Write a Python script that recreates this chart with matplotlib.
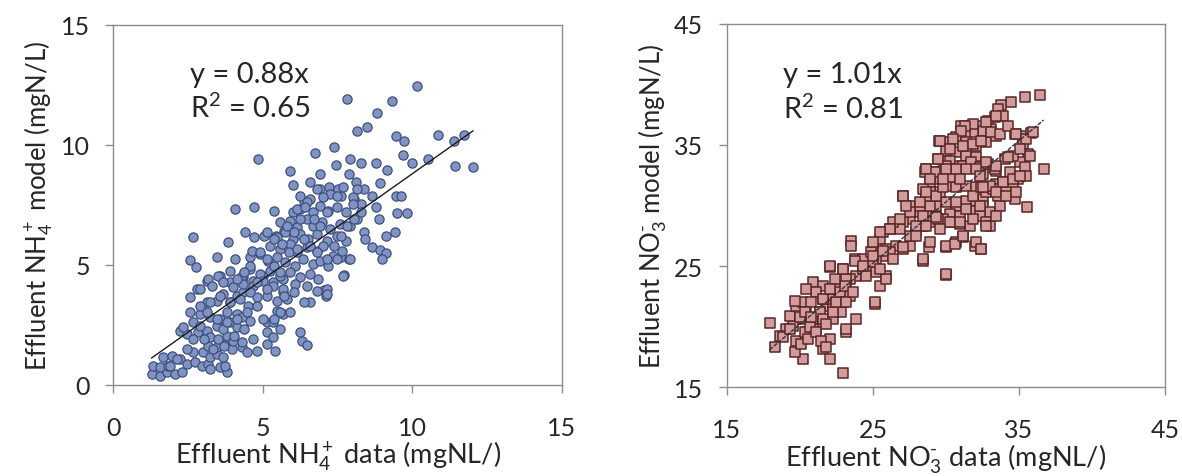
import matplotlib
matplotlib.use("Agg")
import matplotlib.pyplot as plt
import numpy as np

# ---------------- data ----------------
nh4_points = [
    (10.15, 12.47), (7.82, 11.92), (9.33, 11.85), (8.83, 11.32), (8.16, 10.6), (8.49, 10.76),
    (9.44, 10.36), (9.72, 10.18), (10.87, 10.43), (11.4, 10.18), (11.73, 10.43), (7.37, 9.93),
    (6.74, 9.67), (9.7, 9.58), (10.0, 9.25), (10.54, 9.42), (11.42, 9.11), (12.03, 9.1),
    (4.83, 9.42), (7.93, 9.42), (8.27, 9.25), (7.45, 9.18), (8.8, 9.25), (9.14, 8.97),
    (5.9, 8.93), (6.9, 8.78), (7.88, 8.78), (8.13, 8.44), (6.01, 8.35), (6.57, 8.44),
    (8.92, 8.4), (6.93, 8.17), (7.23, 8.24), (7.52, 8.17), (8.39, 8.17), (9.44, 7.86),
    (9.61, 7.86), (6.37, 7.68), (6.59, 7.75), (7.26, 7.96), (7.6, 7.89), (8.04, 7.75),
    (8.27, 7.54), (8.66, 7.89), (8.8, 7.4), (4.08, 7.33), (4.72, 7.4), (5.39, 7.24),
    (6.01, 7.19), (6.26, 7.33), (9.5, 7.17), (9.83, 7.17), (8.88, 6.92), (2.68, 6.15),
    (4.41, 6.36), (4.72, 6.15), (5.03, 6.22), (3.85, 5.94), (5.45, 6.22), (5.7, 6.43),
    (8.39, 6.36), (8.42, 6.08), (9.11, 6.22), (9.42, 6.36), (8.66, 5.74), (8.92, 5.63),
    (9.11, 5.49), (8.99, 5.25), (2.57, 5.22), (2.77, 4.9), (3.46, 5.35), (4.08, 5.25),
    (4.56, 5.32), (7.6, 5.32), (7.88, 5.25), (7.71, 4.58), (6.57, 3.47), (7.04, 3.97),
    (7.13, 3.72), (6.23, 2.19), (6.31, 1.85), (6.48, 1.67),
    (1.28, 0.46), (1.56, 0.39), (1.79, 0.53), (2.06, 0.46), (2.29, 0.53), (1.34, 0.81),
    (1.56, 0.74), (1.84, 0.81), (1.67, 1.16), (1.95, 1.22), (2.23, 1.08), (2.45, 0.88),
    (2.73, 0.94), (2.95, 0.81), (3.18, 0.88), (3.23, 0.67), (3.57, 0.74), (3.79, 0.53),
    (3.74, 0.81), (2.68, 1.36), (3.01, 1.36), (3.23, 1.15), (3.46, 1.29), (3.68, 1.15),
    (3.18, 1.64), (3.46, 1.57), (3.74, 1.71), (3.96, 1.5), (4.29, 1.57), (4.46, 1.36),
    (4.68, 1.92), (4.79, 1.43), (5.13, 1.71), (5.41, 1.43), (2.23, 2.26), (2.45, 2.12),
    (2.84, 2.19), (3.12, 2.26), (3.23, 1.99), (3.51, 1.92), (3.79, 2.06), (4.01, 1.85),
    (4.29, 1.78), (2.34, 2.4), (2.68, 2.61), (2.9, 2.47), (3.46, 2.47), (3.68, 2.33),
    (3.9, 2.61), (4.13, 2.4), (5.13, 2.19), (5.35, 1.99), (5.13, 2.61), (5.57, 2.33),
    (2.56, 3.03), (2.9, 2.96), (3.23, 2.82), (3.57, 2.75), (3.79, 3.03), (4.13, 2.96),
    (4.29, 2.82), (4.57, 2.68), (5.02, 2.75), (5.35, 2.61), (5.46, 3.1), (5.69, 2.96),
    (2.56, 3.65), (2.79, 4.0), (3.12, 3.44), (3.46, 3.51), (3.68, 3.79), (3.9, 3.44),
    (4.13, 3.72), (4.35, 3.86), (4.52, 3.3), (4.79, 3.65), (5.13, 3.72), (5.46, 3.51),
    (5.69, 3.86), (3.12, 4.35), (3.57, 4.56), (3.9, 4.28), (4.35, 4.49), (4.68, 4.35),
    (5.02, 4.56), (5.35, 4.28), (5.69, 4.42),
    (6.24, 7.89), (6.47, 7.61), (6.8, 8.17), (7.03, 7.82), (7.47, 7.89), (7.69, 8.24),
    (8.03, 7.82), (8.14, 8.17), (6.13, 7.33), (6.41, 7.4), (6.69, 7.19), (6.91, 7.47),
    (7.19, 7.26), (7.47, 7.4), (7.8, 7.19), (8.03, 7.54), (5.58, 6.78), (5.91, 6.85),
    (6.13, 6.57), (6.47, 6.92), (6.69, 6.64), (6.97, 6.78), (7.25, 6.5), (7.58, 6.71),
    (7.92, 6.64), (8.14, 6.92), (5.46, 6.15), (5.74, 6.36), (6.02, 6.08), (6.24, 6.29),
    (6.52, 6.08), (6.8, 6.29), (7.14, 6.01), (7.47, 6.22), (7.8, 6.01), (5.24, 5.81),
    (5.58, 5.67), (5.91, 5.88), (6.13, 5.53), (6.47, 5.74), (6.8, 5.6), (7.03, 5.81),
    (7.36, 5.39), (7.64, 5.6), (7.92, 5.25), (4.63, 5.6), (4.91, 5.46), (5.18, 5.18),
    (5.46, 5.32), (5.74, 5.11), (6.08, 4.97), (6.36, 5.25), (6.69, 5.04), (6.91, 5.18),
    (7.19, 4.97), (7.47, 5.25), (3.18, 4.42), (3.51, 4.56), (3.9, 4.76), (4.29, 4.56),
    (4.57, 4.83), (4.91, 4.63), (5.24, 4.76), (5.58, 4.56), (5.91, 4.69), (6.24, 4.49),
    (6.58, 4.63), (6.86, 4.42), (7.14, 4.0), (7.69, 4.56), (2.9, 4.0), (3.29, 4.14),
    (3.68, 4.28), (4.01, 4.07), (4.35, 4.21), (4.68, 4.14), (5.02, 4.35), (5.35, 4.14),
    (5.69, 4.0), (6.08, 4.21), (6.47, 4.14), (6.8, 3.93), (7.14, 3.79),
    (5.81, 3.58), (6.03, 3.86), (6.37, 3.44), (5.92, 3.03), (5.59, 3.03), (5.36, 2.75),
    (5.7, 3.72),
    (5.14, 6.36), (5.36, 6.08), (5.64, 5.88), (5.87, 5.53), (6.15, 5.67), (6.37, 6.08),
    (6.59, 5.81), (6.82, 5.53), (4.92, 5.53), (5.14, 5.25), (5.36, 4.97), (5.59, 4.69),
    (4.58, 4.97), (4.36, 4.69), (4.13, 4.42), (4.8, 4.28), (5.14, 4.0), (4.58, 3.86),
    (4.25, 3.58), (3.91, 3.44), (3.58, 3.72), (3.24, 3.44), (4.8, 3.31), (4.47, 3.03),
    (4.13, 2.75), (3.8, 2.61), (3.46, 2.75), (3.13, 3.03), (2.91, 3.31), (4.36, 2.33),
    (4.02, 2.06), (3.69, 1.64), (3.35, 1.5), (3.02, 1.92), (2.68, 1.92), (2.46, 1.5),
    (2.12, 1.08), (1.9, 0.81), (7.15, 5.25), (7.37, 5.81), (7.6, 6.22), (7.82, 6.64),
    (8.04, 6.92), (8.27, 7.19), (6.93, 6.64), (6.7, 6.92), (7.15, 7.19), (5.81, 6.64),
    (6.03, 6.36), (6.26, 6.92),
]

no3_points = [
    (36.46, 39.13), (35.39, 38.99), (34.47, 38.52), (33.79, 38.3), (33.56, 37.97), (33.9, 37.42),
    (33.33, 37.28), (32.88, 37.01), (32.31, 36.6), (31.62, 36.6), (31.05, 36.6), (32.53, 36.18),
    (33.1, 36.32), (31.85, 36.05), (31.28, 35.91), (30.71, 35.63), (30.25, 35.22), (29.52, 35.3),
    (31.39, 35.22), (32.08, 34.95), (32.76, 35.22), (33.45, 35.77), (34.7, 35.91), (35.27, 35.77),
    (35.84, 35.96), (35.27, 35.08), (35.62, 34.26), (35.05, 33.57), (35.39, 33.16), (34.59, 34.12),
    (34.02, 33.84), (34.36, 32.74), (34.93, 32.19), (36.69, 33.02), (35.5, 32.47),
    (30.02, 34.53), (30.71, 34.4), (31.39, 34.12), (32.08, 33.98), (29.45, 33.84), (30.25, 33.71),
    (30.94, 33.29), (31.62, 33.16), (32.31, 33.29), (32.99, 33.16), (33.45, 32.88), (32.53, 32.61),
    (28.65, 33.02), (29.11, 32.74), (29.79, 32.88), (30.48, 32.47), (29.34, 32.19), (28.88, 31.92),
    (30.02, 31.64), (30.71, 31.51), (31.39, 31.64), (32.08, 31.51), (32.76, 31.37), (33.45, 31.78),
    (33.9, 31.92), (34.59, 31.51), (34.13, 31.09), (33.56, 30.82), (32.53, 30.54), (31.85, 30.41),
    (31.39, 30.41), (30.71, 29.99), (30.02, 30.27), (29.57, 31.09), (28.88, 31.09), (28.42, 31.37),
    (28.65, 30.54), (29.34, 29.99), (30.25, 29.31), (30.94, 29.17), (32.08, 29.58), (32.53, 29.99),
    (32.99, 29.44), (33.68, 29.99), (34.7, 30.54), (35.55, 29.86), (32.31, 29.17), (32.76, 28.62),
    (32.99, 28.34), (31.62, 28.34), (30.94, 28.48), (30.25, 28.62), (29.34, 29.03), (28.88, 29.17),
    (28.2, 29.44), (27.51, 28.89), (27.05, 28.62), (26.83, 28.07), (27.97, 27.79), (28.42, 28.34),
    (28.88, 28.62), (29.79, 28.89),
    (27.05, 30.82), (27.51, 29.99), (28.2, 29.99), (26.37, 28.62), (26.14, 28.07), (25.68, 27.79),
    (25.0, 26.69), (25.46, 27.24), (25.91, 26.42), (26.6, 26.69), (27.05, 26.42), (27.51, 26.69),
    (26.14, 26.14), (25.68, 25.87), (25.23, 25.59), (24.77, 25.04), (25.23, 24.49), (25.91, 24.22),
    (25.46, 23.39), (25.91, 23.94), (25.0, 26.14), (24.32, 24.77), (23.86, 24.22), (23.4, 23.94),
    (23.17, 23.39), (22.72, 22.84), (22.26, 22.29), (21.8, 21.74), (21.35, 21.19), (20.89, 20.64),
    (20.43, 21.19), (19.98, 20.64), (19.52, 20.09), (19.06, 19.81), (18.61, 19.26), (18.26, 18.3),
    (17.92, 20.31), (19.29, 20.91), (19.75, 21.74), (20.21, 22.02), (20.89, 23.67), (21.58, 23.39),
    (22.03, 24.9), (22.95, 24.77), (23.52, 27.1), (23.52, 26.69), (23.74, 25.59), (24.32, 25.59),
    (24.89, 26.14), (25.11, 21.88), (23.86, 20.64), (23.17, 19.54), (22.03, 18.99), (21.58, 18.16),
    (22.03, 17.34), (22.95, 16.16), (20.21, 17.34), (19.63, 17.89), (19.75, 18.85), (20.43, 19.54),
    (21.12, 19.81), (21.58, 20.36), (22.26, 20.64), (22.83, 21.19), (22.95, 22.02), (23.4, 22.57),
    (22.26, 21.46), (21.58, 22.29), (21.12, 22.84), (20.43, 23.12), (22.49, 23.12), (23.17, 23.94),
    (28.42, 25.45), (30.02, 24.27), (30.02, 26.55), (30.71, 26.97), (31.16, 27.38), (31.96, 26.69),
    (32.42, 26.42), (28.81, 26.55), (29.45, 28.89),
    (18.84, 19.12), (19.29, 19.81), (19.64, 22.15), (20.09, 18.57), (20.32, 19.54), (19.98, 20.77),
    (20.55, 18.99), (20.66, 19.95), (20.78, 22.01), (21.35, 21.19), (21.58, 20.64), (21.12, 19.54),
    (21.46, 18.85), (21.8, 18.3), (21.8, 20.22), (22.26, 21.19), (22.49, 22.01), (22.72, 22.84),
    (23.06, 23.39), (23.17, 22.01), (23.63, 22.84), (23.17, 19.81), (22.38, 23.94), (22.03, 25.04),
    (22.95, 24.76), (23.74, 25.45), (24.32, 24.76), (25.0, 25.31), (25.12, 22.01), (24.54, 24.21),
    (21.58, 22.29), (22.03, 23.11), (20.32, 21.19), (20.78, 20.77),
    (24.32, 25.04), (25.0, 25.86), (25.69, 26.28), (25.46, 24.76), (26.37, 25.59), (27.06, 26.55),
    (27.51, 27.51), (27.97, 28.34), (28.43, 29.17), (28.88, 29.99), (29.34, 30.81), (29.8, 31.5),
    (30.25, 32.33), (30.71, 33.01), (31.17, 33.29), (31.74, 33.56), (32.31, 33.15), (32.88, 33.43),
    (33.33, 33.01), (28.54, 32.74), (29.23, 32.74), (30.03, 33.29), (28.66, 30.81), (28.2, 30.26),
    (27.51, 29.44), (26.83, 28.89), (26.14, 28.06), (25.46, 27.79), (25.0, 26.96), (27.06, 30.81),
    (27.28, 29.99), (27.97, 27.51), (28.88, 26.96), (28.43, 25.59), (30.03, 24.35), (30.25, 28.61),
    (30.94, 28.61), (31.85, 28.89), (32.76, 28.34), (33.45, 29.17), (32.31, 29.99), (31.4, 29.71),
    (30.71, 30.26), (31.85, 30.81), (32.76, 31.09), (33.22, 31.36), (32.42, 31.5), (30.03, 26.69),
    (30.6, 26.83), (31.17, 27.51), (32.08, 26.96), (32.42, 26.41), (29.34, 29.03), (28.66, 28.34),
    (29.57, 28.06),
    (32.76, 36.86), (31.85, 36.72), (31.28, 36.58), (31.05, 36.17), (30.48, 35.48), (29.57, 35.35),
    (30.25, 34.66), (31.17, 34.93), (31.85, 35.07), (32.42, 35.35), (33.11, 36.03), (33.68, 35.9),
    (34.25, 36.58), (34.82, 35.9), (35.51, 35.48), (35.96, 36.03), (35.73, 34.11), (35.05, 34.66),
    (34.25, 33.97), (33.45, 33.28), (32.76, 33.56), (32.08, 33.01), (31.39, 33.01), (30.71, 33.01),
    (30.03, 33.01), (29.46, 33.83), (28.66, 33.01), (28.88, 32.18), (29.8, 32.18), (30.94, 32.18),
    (32.31, 32.46), (32.99, 31.63), (33.91, 31.91), (34.59, 32.18), (35.05, 32.46), (32.53, 31.5),
    (33.45, 31.08), (34.13, 30.81), (34.82, 31.08), (28.66, 31.08), (33.45, 37.41),
]

nh4_slope = 0.88
nh4_r2 = 0.65
no3_slope = 1.01
no3_r2 = 0.81

nh4_ticks = [0, 5, 10, 15]
no3_ticks = [15, 25, 35, 45]

# ---------------- styling ----------------
plt.rcParams['font.family'] = ['Lato', 'DejaVu Sans']
plt.rcParams['mathtext.fontset'] = 'custom'
plt.rcParams['mathtext.rm'] = 'Lato'
plt.rcParams['mathtext.it'] = 'Lato:italic'
plt.rcParams['mathtext.bf'] = 'Lato:bold'

TXT = '#262626'
FS = 18
FS_X = 19.5
FS_Y = 18.5
FS_ANN = 21

fig = plt.figure(figsize=(11.82, 4.77), dpi=100)
ax1 = fig.add_axes([0.0959, 0.1908, 0.3793, 0.7547])
ax2 = fig.add_axes([0.615, 0.186, 0.3706, 0.762])


def style(ax, ticks):
    ax.set_xlim(ticks[0], ticks[-1])
    ax.set_ylim(ticks[0], ticks[-1])
    ax.set_xticks(ticks)
    ax.set_yticks(ticks)
    for s in ax.spines.values():
        s.set_color('#8c8c8c')
        s.set_linewidth(1.0)
    ax.tick_params(direction='out', length=6, width=1, color='#8c8c8c',
                   labelsize=FS, labelcolor=TXT)
    ax.tick_params(axis='x', pad=16)
    ax.tick_params(axis='y', pad=11)
    ax.tick_params(top=False, right=False)


nx = np.array([p[0] for p in nh4_points])
ny = np.array([p[1] for p in nh4_points])
ox = np.array([p[0] for p in no3_points])
oy = np.array([p[1] for p in no3_points])

style(ax1, nh4_ticks)
ax1.scatter(nx, ny, s=44, marker='o', facecolor='#8094C4', edgecolor='#3E4F7D',
            linewidth=0.9, zorder=2)
lx = np.array([nx.min(), nx.max()])
ax1.plot(lx, nh4_slope * lx, color='#1a1a1a', lw=1.0, zorder=3)
ax1.text(0.171, 0.864, f'y = {nh4_slope:.2f}x', transform=ax1.transAxes,
         va='center', ha='left', fontsize=FS_ANN, color=TXT)
ax1.text(0.171, 0.772, f'R$^2$ = {nh4_r2:.2f}', transform=ax1.transAxes,
         va='center', ha='left', fontsize=FS_ANN, color=TXT)
ax1.set_xlabel(r'Effluent NH$_4^+$ data (mgNL/)', fontsize=FS_X, color=TXT, labelpad=0)
ax1.set_ylabel(r'Effluent NH$_4^+$ model (mgN/L)', fontsize=FS_Y, color=TXT, labelpad=4)

style(ax2, no3_ticks)
ax2.scatter(ox, oy, s=52, marker='s', facecolor='#D39C9C', edgecolor='#5A2626',
            linewidth=1.1, zorder=2)
lx2 = np.array([ox.min(), ox.max()])
ax2.plot(lx2, no3_slope * lx2, color='#333333', lw=1.0, ls=(0, (3, 1)), zorder=3)
ax2.text(0.127, 0.862, f'y = {no3_slope:.2f}x', transform=ax2.transAxes,
         va='center', ha='left', fontsize=FS_ANN, color=TXT)
ax2.text(0.127, 0.766, f'R$^2$ = {no3_r2:.2f}', transform=ax2.transAxes,
         va='center', ha='left', fontsize=FS_ANN, color=TXT)
ax2.set_xlabel(r'Effluent NO$_3^{\text{-}}$ data (mgNL/)', fontsize=FS_X, color=TXT, labelpad=0)
ax2.set_ylabel(r'Effluent NO$_3^{\text{-}}$ model (mgN/L)', fontsize=FS_Y, color=TXT, labelpad=4)

fig.savefig('out.png', dpi=100)
